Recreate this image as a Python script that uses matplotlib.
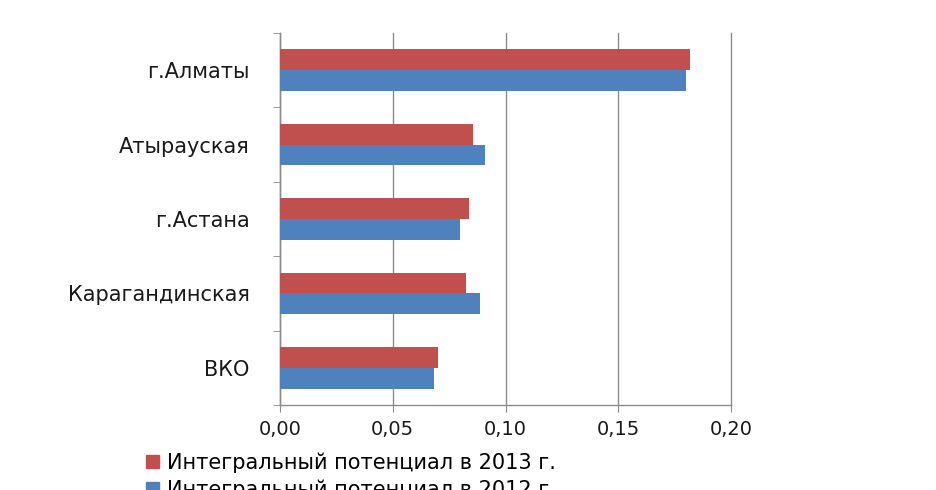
import numpy as np
import matplotlib
matplotlib.use("Agg")
import matplotlib.pyplot as plt
from matplotlib.patches import Patch

plt.rcParams['font.family'] = ['DejaVu Sans']

# данные
regions = ["г.Алматы", "Атырауская", "г.Астана", "Карагандинская", "ВКО"]
val_2013 = [0.1817, 0.0858, 0.0839, 0.0826, 0.0700]
val_2012 = [0.1802, 0.0911, 0.0799, 0.0885, 0.0685]
xticks = [0.00, 0.05, 0.10, 0.15, 0.20]
xtick_labels = ["0,00", "0,05", "0,10", "0,15", "0,20"]
labels = ["Интегральный потенциал в 2013 г.", "Интегральный потенциал в 2012 г."]

red = "#C0504D"
blue = "#4F81BD"
grey = "#8C8C8C"

fig = plt.figure(figsize=(9.37, 4.9), dpi=100)
ax = fig.add_axes([280/937, 1-405/490, 451/937, 372/490])

y = np.arange(len(regions))
h = 0.28
ax.barh(y - h/2, val_2013, height=h, color=red, zorder=3)
ax.barh(y + h/2, val_2012, height=h, color=blue, zorder=3)

ax.set_xlim(0, 0.2)
ax.set_ylim(len(regions) - 0.5, -0.5)

ax.set_xticks(xticks)
ax.set_xticklabels(xtick_labels, fontsize=14, color="#1a1a1a")
ax.set_yticks(y)
ax.set_yticklabels(regions, fontsize=15, color="#1a1a1a")
ax.set_yticks(np.arange(-0.5, len(regions), 1), minor=True)

ax.tick_params(axis="y", which="major", length=0, pad=22)
ax.tick_params(axis="y", which="minor", length=5, color=grey, direction="out")
ax.tick_params(axis="x", length=5, color=grey, pad=6)

ax.grid(axis="x", color=grey, linewidth=1, zorder=0)
for gl in ax.get_xgridlines():
    gl.set_clip_on(False)
for s in ["top", "right"]:
    ax.spines[s].set_visible(False)
for s in ["left", "bottom"]:
    ax.spines[s].set_color(grey)
    ax.spines[s].set_linewidth(1)

handles = [Patch(color=red), Patch(color=blue)]
fig.legend(handles, labels, loc="upper left", bbox_to_anchor=(138/937, 1-444/490),
           frameon=False, fontsize=15, handlelength=0.6, handleheight=0.6,
           handletextpad=0.4, labelspacing=0.3, borderaxespad=0)

fig.savefig("out.png", dpi=100)
